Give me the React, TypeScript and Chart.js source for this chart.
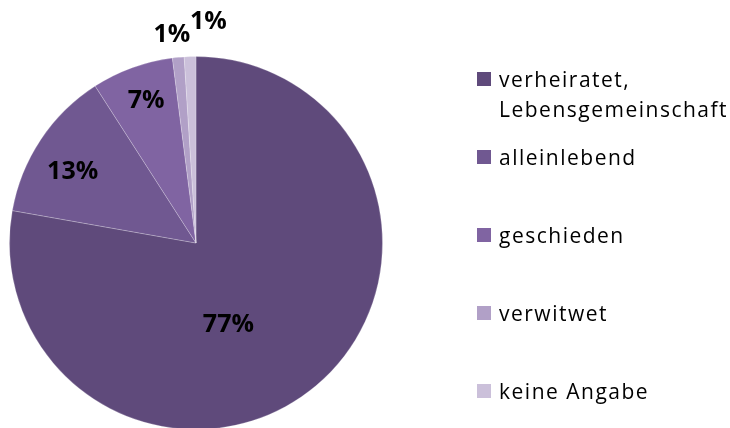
import React, { useEffect, useRef } from "react";
import { Chart, registerables } from "chart.js";

Chart.register(...registerables);

const categories: string[][] = [
  ["verheiratet,", "Lebensgemeinschaft"],
  ["alleinlebend"],
  ["geschieden"],
  ["verwitwet"],
  ["keine Angabe"],
];
const values: number[] = [77, 13, 7, 1, 1];
const sliceColors: string[] = ["#5F4A7B", "#705891", "#8064A2", "#B1A0C7", "#CBC0DA"];

// label placement: radial fraction of radius, angular nudge (degrees)
const labelRadius: number[] = [0.464, 0.767, 0.815, 1.133, 1.195];
const labelNudge: number[] = [18, -3.2, 0.85, -1.1, 5];

const LABEL_FONT_SIZE = 25;
const LEGEND_FONT_SIZE = 21;
const FONT_FAMILY = "'Open Sans', sans-serif";

const labelsPlugin = {
  id: "pctLabels",
  afterDatasetsDraw(chart: any) {
    const ctx = chart.ctx;
    const meta = chart.getDatasetMeta(0);
    const ds = chart.data.datasets[0];
    ctx.save();
    ctx.font = `bold ${LABEL_FONT_SIZE}px ${FONT_FAMILY}`;
    ctx.fillStyle = "#000";
    ctx.textAlign = "center";
    ctx.textBaseline = "alphabetic";
    const capH = LABEL_FONT_SIZE * 0.714;
    meta.data.forEach((arc: any, i: number) => {
      const p = arc.getProps(["x", "y", "startAngle", "endAngle", "outerRadius"], true);
      const mid = (p.startAngle + p.endAngle) / 2 + (labelNudge[i] * Math.PI) / 180;
      const r = p.outerRadius * labelRadius[i];
      const x = p.x + Math.cos(mid) * r;
      const y = p.y + Math.sin(mid) * r;
      ctx.fillText(`${ds.data[i]}%`, x, y + capH / 2);
    });
    ctx.restore();
  },
};

const legendPlugin = {
  id: "customLegend",
  afterDraw(chart: any) {
    const ctx = chart.ctx;
    const labels = chart.data.labels as string[][];
    const colors = chart.data.datasets[0].backgroundColor as string[];
    ctx.save();
    ctx.font = `${LEGEND_FONT_SIZE}px ${FONT_FAMILY}`;
    ctx.textAlign = "left";
    ctx.textBaseline = "alphabetic";
    try {
      (ctx as any).letterSpacing = "1.5px";
    } catch (e) {}
    const boxX = 477;
    const boxSize = 14;
    const textX = 499;
    const top0 = 72;
    const step = 78;
    const lineH = 30;
    labels.forEach((lines, i) => {
      const top = top0 + i * step;
      ctx.fillStyle = colors[i];
      ctx.fillRect(boxX, top, boxSize, boxSize);
      ctx.fillStyle = "#000";
      lines.forEach((line, j) => {
        ctx.fillText(line, textX, top + 15 + j * lineH);
      });
    });
    ctx.restore();
  },
};

export default function App() {
  const canvasRef = useRef<HTMLCanvasElement | null>(null);

  useEffect(() => {
    document.body.style.margin = "0";
    const canvas = canvasRef.current;
    if (!canvas) return;
    const chart = new Chart(canvas, {
      type: "pie",
      data: {
        labels: categories as any,
        datasets: [
          {
            data: values,
            backgroundColor: sliceColors,
            borderColor: "rgba(255,255,255,0.22)",
            borderWidth: 1,
          },
        ],
      },
      options: {
        responsive: false,
        animation: false,
        layout: { padding: { left: 9, top: 56, right: 347, bottom: 2 } },
        plugins: {
          legend: { display: false },
          tooltip: { enabled: false },
        },
      },
      plugins: [labelsPlugin, legendPlugin],
    });
    return () => chart.destroy();
  }, []);

  return (
    <div style={{ width: 730, height: 428, overflow: "hidden", background: "#fff" }}>
      <canvas ref={canvasRef} width={730} height={432} style={{ display: "block" }} />
    </div>
  );
}
